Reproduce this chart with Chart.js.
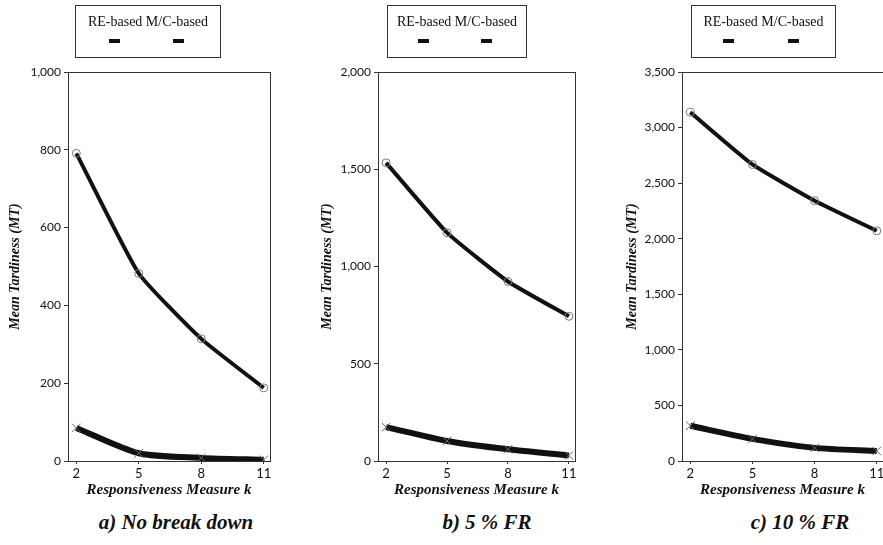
<!DOCTYPE html>
<html>
<head>
<meta charset="utf-8">
<script src="https://cdn.jsdelivr.net/npm/chart.js@4.4.1/dist/chart.umd.min.js"></script>
<style>
  html, body { margin: 0; padding: 0; background: #fff; }
  body { width: 883px; height: 545px; position: relative; overflow: hidden; }
  .panel { position: absolute; top: 50px; height: 450px; }
  .legend {
    position: absolute; top: 5px; height: 53px; border: 1px solid #333;
    font-family: "Liberation Serif", serif; font-size: 14px; color: #111;
    box-sizing: border-box;
  }
  .legend .txt { position: absolute; top: 8px; left: 0; right: 0; text-align: center; white-space: nowrap; }
  .legend .mk { position: absolute; top: 33px; width: 11px; height: 4px; background: #111; }
  .caption {
    position: absolute; top: 510px; font-family: "Liberation Serif", serif;
    font-style: italic; font-weight: bold; font-size: 21px; color: #111;
    transform: translateX(-50%); white-space: nowrap;
  }
</style>
</head>
<body>
<div class="panel" style="left:0;width:290px"><canvas id="chartA"></canvas></div>
<div class="panel" style="left:290px;width:300px"><canvas id="chartB"></canvas></div>
<div class="panel" style="left:590px;width:310px"><canvas id="chartC"></canvas></div>

<div class="legend" style="left:75px;width:146px"><div class="txt">RE-based M/C-based</div><span class="mk" style="left:33px"></span><span class="mk" style="left:97px"></span></div>
<div class="legend" style="left:387px;width:140px"><div class="txt">RE-based M/C-based</div><span class="mk" style="left:30px"></span><span class="mk" style="left:93px"></span></div>
<div class="legend" style="left:691px;width:145px"><div class="txt">RE-based M/C-based</div><span class="mk" style="left:31px"></span><span class="mk" style="left:96px"></span></div>

<div class="caption" style="left:176px">a) No break down</div>
<div class="caption" style="left:487px">b) 5 % FR</div>
<div class="caption" style="left:800px">c) 10 % FR</div>

<script>
// responsiveness measure k
const kValues = [2, 5, 8, 11];

// mean tardiness
const reA = [85, 20, 8, 3];
const mcA = [791, 482, 314, 188];
const reB = [174, 103, 60, 28];
const mcB = [1533, 1174, 923, 744];
const reC = [317, 199, 118, 90];
const mcC = [3138, 2668, 2342, 2071];

const yMaxes = [1000, 2000, 3500];
const ySteps = [200, 500, 500];

// box round the plot area
const framePlugin = {
  id: "frame",
  afterDraw(chart) {
    const a = chart.chartArea;
    const ctx = chart.ctx;
    ctx.save();
    ctx.strokeStyle = "#333";
    ctx.lineWidth = 1;
    ctx.strokeRect(Math.round(a.left) + 0.5, Math.round(a.top) + 0.5, Math.round(a.right - a.left), Math.round(a.bottom - a.top));
    ctx.restore();
  },
};

function makeChart(id, re, mc, yMax, yStep, padLeft, yWidth, padRight) {
  const toPts = (vals) => kValues.map((k, i) => ({ x: k, y: vals[i] }));
  return new Chart(document.getElementById(id), {
    type: "line",
    data: {
      datasets: [
        {
          label: "RE-based",
          data: toPts(re),
          borderColor: "#111",
          borderWidth: 6,
          tension: 0.25,
          pointStyle: "crossRot",
          pointRadius: 6,
          pointBorderWidth: 1,
          pointBorderColor: "#666",
          fill: false,
        },
        {
          label: "M/C-based",
          data: toPts(mc),
          borderColor: "#111",
          borderWidth: 4,
          tension: 0.15,
          pointStyle: "circle",
          pointRadius: 4,
          pointBorderWidth: 1,
          pointBorderColor: "#777",
          pointBackgroundColor: "rgba(0,0,0,0)",
          fill: false,
        },
      ],
    },
    options: {
      responsive: true,
      maintainAspectRatio: false,
      animation: false,
      layout: { padding: { left: padLeft, right: padRight, top: 22, bottom: 0 } },
      plugins: { legend: { display: false }, tooltip: { enabled: false } },
      scales: {
        x: {
          type: "linear",
          min: 1.6,
          max: 11.3,
          afterBuildTicks: (s) => { s.ticks = kValues.map((v) => ({ value: v })); },
          afterFit: (s) => { s.height = 39; },
          ticks: { color: "#111", font: { family: "Lato", size: 13 }, padding: 2 },
          grid: { drawOnChartArea: false, tickLength: 3, color: "#333" },
          border: { color: "#333" },
          title: {
            display: true,
            text: "Responsiveness Measure k",
            color: "#111",
            font: { family: "Liberation Serif", size: 15, style: "italic", weight: "bold" },
            padding: { top: 2, bottom: 1 },
          },
        },
        y: {
          min: 0,
          max: yMax,
          ticks: { stepSize: yStep, color: "#111", font: { family: "Lato", size: 12 }, padding: 3 },
          afterFit: (s) => { s.width = yWidth; },
          grid: { drawOnChartArea: false, tickLength: 4, color: "#333" },
          border: { color: "#333" },
          title: {
            display: true,
            text: "Mean Tardiness (MT)",
            color: "#111",
            font: { family: "Liberation Serif", size: 14, style: "italic", weight: "bold" },
            padding: { top: 3, bottom: 3 },
          },
        },
      },
    },
    plugins: [framePlugin],
  });
}

makeChart("chartA", reA, mcA, yMaxes[0], ySteps[0], 4, 64, 20);
makeChart("chartB", reB, mcB, yMaxes[1], ySteps[1], 26, 62, 15);
makeChart("chartC", reC, mcC, yMaxes[2], ySteps[2], 31, 61, 17);
</script>
</body>
</html>
